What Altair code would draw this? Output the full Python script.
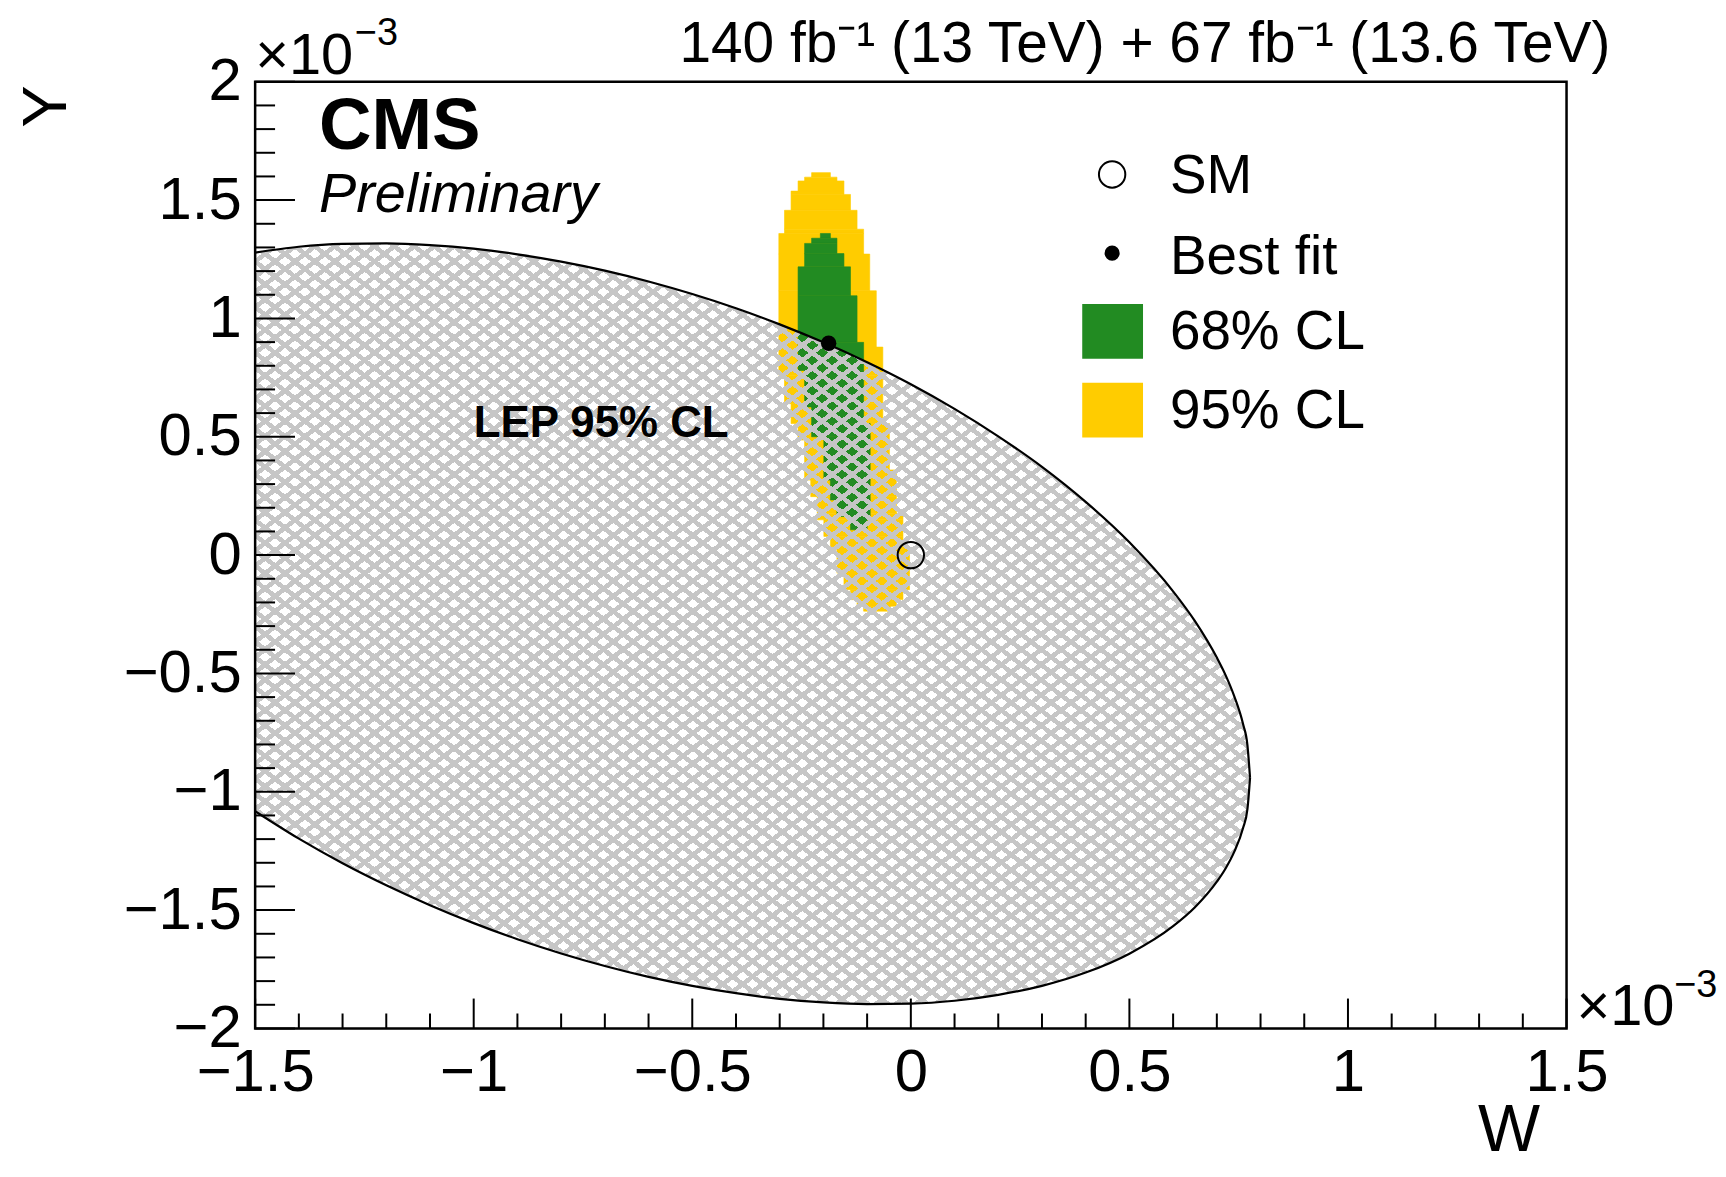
import altair as alt
import pandas as pd

FONT = "Liberation Sans"
W_PLOT, H_PLOT = 1316, 950

# ---------------- data (units of 1e-3) ----------------
# LEP 95% CL ellipse boundary
lep_w = [-1.5, -1.4, -1.3, -1.2, -1.1, -1.0, -0.9, -0.8, -0.7, -0.6, -0.5, -0.4, -0.3,
         -0.2, -0.1, 0.0, 0.1, 0.2, 0.3, 0.4, 0.5, 0.6, 0.65, 0.7, 0.72, 0.74, 0.76, 0.77, 0.776]
lep_up = [1.278, 1.303, 1.315, 1.317, 1.310, 1.295, 1.271, 1.240, 1.202, 1.156, 1.103, 1.043, 0.975,
          0.899, 0.815, 0.722, 0.618, 0.502, 0.373, 0.225, 0.054, -0.153, -0.279, -0.433, -0.507,
          -0.597, -0.714, -0.803, -0.941]
lep_low = [-1.082, -1.198, -1.302, -1.395, -1.479, -1.555, -1.623, -1.683, -1.736, -1.782, -1.820,
           -1.851, -1.875, -1.890, -1.897, -1.895, -1.883, -1.858, -1.820, -1.764, -1.684, -1.568,
           -1.488, -1.380, -1.324, -1.253, -1.153, -1.073, -0.941]

# 95% CL region, row by row (Y top, Y bottom, W left, W right)
cl95_ytop = [1.616, 1.597, 1.581, 1.538, 1.524, 1.457, 1.377, 1.359, 1.272, 1.117, 0.879, 0.760,
             0.640, 0.556, 0.486, 0.360, 0.317, 0.247, 0.177, 0.149, 0.079, 0.036, 0.022, -0.076,
             -0.146, -0.188, -0.216]
cl95_ybot = [1.597, 1.581, 1.538, 1.524, 1.457, 1.377, 1.359, 1.272, 1.117, 0.879, 0.760, 0.640,
             0.556, 0.486, 0.360, 0.317, 0.247, 0.177, 0.149, 0.079, 0.036, 0.022, -0.076, -0.146,
             -0.188, -0.216, -0.237]
cl95_wl = [-0.227, -0.243, -0.258, -0.274, -0.274, -0.289, -0.289, -0.302, -0.302, -0.302, -0.302,
           -0.289, -0.274, -0.258, -0.243, -0.243, -0.229, -0.214, -0.214, -0.199, -0.184, -0.184,
           -0.169, -0.153, -0.138, -0.123, -0.108]
cl95_wr = [-0.184, -0.169, -0.153, -0.153, -0.138, -0.123, -0.108, -0.108, -0.094, -0.079, -0.064,
           -0.064, -0.064, -0.049, -0.049, -0.033, -0.033, -0.033, -0.018, -0.018, -0.018, -0.003,
           -0.003, -0.003, -0.018, -0.033, -0.047]

# 68% CL region
cl68_ytop = [1.359, 1.339, 1.317, 1.274, 1.218, 1.096, 0.899, 0.780, 0.626, 0.556, 0.500, 0.317, 0.233, 0.163]
cl68_ybot = [1.339, 1.317, 1.274, 1.218, 1.096, 0.899, 0.780, 0.626, 0.556, 0.500, 0.317, 0.233, 0.163, 0.107]
cl68_wl = [-0.207, -0.227, -0.243, -0.243, -0.258, -0.258, -0.258, -0.243, -0.227, -0.227, -0.199, -0.184, -0.169, -0.138]
cl68_wr = [-0.184, -0.169, -0.169, -0.153, -0.138, -0.123, -0.108, -0.108, -0.108, -0.093, -0.093, -0.093, -0.093, -0.100]

best_fit_w, best_fit_y = [-0.188], [0.895]
sm_w, sm_y = [0.0], [0.0]

x_major = [-1.5, -1.0, -0.5, 0.0, 0.5, 1.0, 1.5]
x_minor = [-1.4, -1.3, -1.2, -1.1, -0.9, -0.8, -0.7, -0.6, -0.4, -0.3, -0.2, -0.1,
           0.1, 0.2, 0.3, 0.4, 0.6, 0.7, 0.8, 0.9, 1.1, 1.2, 1.3, 1.4]
y_major = [-2.0, -1.5, -1.0, -0.5, 0.0, 0.5, 1.0, 1.5, 2.0]
y_minor = [-1.9, -1.8, -1.7, -1.6, -1.4, -1.3, -1.2, -1.1, -0.9, -0.8, -0.7, -0.6, -0.4, -0.3,
           -0.2, -0.1, 0.1, 0.2, 0.3, 0.4, 0.6, 0.7, 0.8, 0.9, 1.1, 1.2, 1.3, 1.4, 1.6, 1.7,
           1.8, 1.9]

legend_labels = ["SM", "Best fit", "68% CL", "95% CL"]
lumi_text = "140 fb⁻¹ (13 TeV) + 67 fb⁻¹ (13.6 TeV)"

GREEN = "#228b22"
YELLOW = "#ffcc00"
HATCH = "#c6c6c6"

# ---------------- scales / axes ----------------
xs = alt.Scale(domain=[-1.5, 1.5], nice=False, zero=False)
ys = alt.Scale(domain=[-2.0, 2.0], nice=False, zero=False)

x_axis = alt.Axis(values=x_major, format="~g", labelFont=FONT, labelFontSize=60, labelColor="black",
                  labelPadding=15, ticks=False, tickSize=0, domain=False, grid=False,
                  labelFlush=False, labelOverlap=False, title="W", titleFont=FONT,
                  titleFontSize=66, titleFontWeight="normal", titleColor="black",
                  titleAlign="right", titleBaseline="alphabetic", titleX=1289, titleY=122)
y_axis = alt.Axis(values=y_major, format="~g", labelFont=FONT, labelFontSize=60, labelColor="black",
                  labelPadding=14, ticks=False, tickSize=0, domain=False, grid=False,
                  labelFlush=False, labelOverlap=False, title="Y", titleFont=FONT,
                  titleFontSize=64, titleFontWeight="normal", titleColor="black",
                  titleAngle=270, titleAlign="right", titleBaseline="alphabetic",
                  titleX=-190, titleY=3)


def X(field):
    return alt.X(field, scale=xs, axis=x_axis)


def Y(field):
    return alt.Y(field, scale=ys, axis=y_axis)


df95 = pd.DataFrame({"yt": cl95_ytop, "yb": cl95_ybot, "wl": cl95_wl, "wr": cl95_wr})
df68 = pd.DataFrame({"yt": cl68_ytop, "yb": cl68_ybot, "wl": cl68_wl, "wr": cl68_wr})
dflep = pd.DataFrame({"w": lep_w, "up": lep_up, "low": lep_low})

rect95 = alt.Chart(df95).mark_rect(color=YELLOW, stroke=YELLOW, strokeWidth=0.6).encode(
    x=X("wl:Q"), x2="wr:Q", y=Y("yt:Q"), y2="yb:Q")
rect68 = alt.Chart(df68).mark_rect(color=GREEN, stroke=GREEN, strokeWidth=0.6).encode(
    x=X("wl:Q"), x2="wr:Q", y=Y("yt:Q"), y2="yb:Q")


# hatch texture for the LEP region: two families of diagonal stripes
def stripes(flip):
    n = 100
    frac = 0.38
    clear = "rgba(198,198,198,0)"
    stops = []
    for i in range(n):
        a = i / n
        b = (i + frac) / n
        c = (i + 1) / n
        stops += [alt.GradientStop(offset=a, color=HATCH), alt.GradientStop(offset=b, color=HATCH),
                  alt.GradientStop(offset=b, color=clear), alt.GradientStop(offset=c, color=clear)]
    if flip:
        return alt.LinearGradient(gradient="linear", stops=stops, x1=1, y1=0, x2=0, y2=1)
    return alt.LinearGradient(gradient="linear", stops=stops, x1=0, y1=0, x2=1, y2=1)


lep_fill_a = alt.Chart(dflep).mark_area(color=stripes(False), interpolate="monotone", clip=True).encode(
    x=X("w:Q"), y=Y("low:Q"), y2="up:Q")
lep_fill_b = alt.Chart(dflep).mark_area(color=stripes(True), interpolate="monotone", clip=True).encode(
    x=X("w:Q"), y=Y("low:Q"), y2="up:Q")
lep_up_line = alt.Chart(dflep).mark_line(color="black", strokeWidth=2.2, interpolate="monotone", clip=True).encode(
    x=X("w:Q"), y=Y("up:Q"))
lep_low_line = alt.Chart(dflep).mark_line(color="black", strokeWidth=2.2, interpolate="monotone", clip=True).encode(
    x=X("w:Q"), y=Y("low:Q"))

lep_label = alt.Chart(pd.DataFrame({"w": [-1.0], "y": [0.5], "t": ["LEP 95% CL"]})).mark_text(
    font=FONT, fontSize=44, fontWeight="bold", align="left", baseline="alphabetic", color="black").encode(
    x=X("w:Q"), y=Y("y:Q"), text="t:N")

best = alt.Chart(pd.DataFrame({"w": best_fit_w, "y": best_fit_y})).mark_point(
    shape="circle", filled=True, color="black", size=240, opacity=1).encode(
    x=X("w:Q"), y=Y("y:Q"))
sm = alt.Chart(pd.DataFrame({"w": sm_w, "y": sm_y})).mark_point(
    shape="circle", filled=False, color="black", size=700, strokeWidth=2, opacity=1).encode(
    x=X("w:Q"), y=Y("y:Q"))


# inward ticks
def xticks(vals, length):
    return alt.Chart(pd.DataFrame({"v": vals})).mark_rule(color="black", strokeWidth=2).encode(
        x=X("v:Q"), y=alt.value(H_PLOT), y2=alt.value(H_PLOT - length))


def yticks(vals, length):
    return alt.Chart(pd.DataFrame({"v": vals})).mark_rule(color="black", strokeWidth=2).encode(
        y=Y("v:Q"), x=alt.value(0), x2=alt.value(length))


frame = alt.Chart(pd.DataFrame({"a": [0]})).mark_rect(fillOpacity=0, stroke="black", strokeWidth=2.5).encode(
    x=alt.value(0), x2=alt.value(W_PLOT), y=alt.value(0), y2=alt.value(H_PLOT))


def text(t, x, y, size, align="left", weight="normal", style="normal"):
    return alt.Chart(pd.DataFrame({"t": [t]})).mark_text(
        font=FONT, fontSize=size, fontWeight=weight, fontStyle=style, align=align,
        baseline="alphabetic", color="black").encode(x=alt.value(x), y=alt.value(y), text="t:N")


# legend
leg_sm = alt.Chart(pd.DataFrame({"l": [legend_labels[0]]})).mark_point(
    shape="circle", filled=False, color="black", size=700, strokeWidth=2, opacity=1).encode(
    x=alt.value(860), y=alt.value(93))
leg_bf = alt.Chart(pd.DataFrame({"l": [legend_labels[1]]})).mark_point(
    shape="circle", filled=True, color="black", size=230, opacity=1).encode(
    x=alt.value(860), y=alt.value(172))
leg_68 = alt.Chart(pd.DataFrame({"l": [legend_labels[2]]})).mark_rect(color=GREEN).encode(
    x=alt.value(830), x2=alt.value(891), y=alt.value(223), y2=alt.value(278))
leg_95 = alt.Chart(pd.DataFrame({"l": [legend_labels[3]]})).mark_rect(color=YELLOW).encode(
    x=alt.value(830), x2=alt.value(891), y=alt.value(302), y2=alt.value(357))

layers = [
    rect95, rect68, lep_fill_a, lep_fill_b, lep_up_line, lep_low_line, lep_label,
    xticks(x_major, 30), xticks(x_minor, 15), yticks(y_major, 40), yticks(y_minor, 20),
    sm, best, frame,
    leg_sm, leg_bf, leg_68, leg_95,
    text(legend_labels[0], 918, 112, 55),
    text(legend_labels[1], 918, 193, 55),
    text(legend_labels[2], 918, 268, 55),
    text(legend_labels[3], 918, 347, 55),
    text("CMS", 64, 67, 73, weight="bold"),
    text("Preliminary", 64, 131, 56, style="italic"),
    text(lumi_text, 1360, -20, 57, align="right"),
    text("×10", 0, -8, 58),
    text("−3", 100, -37, 38),
    text("×10", 1326, 947, 58),
    text("−3", 1424, 918, 38),
]

chart = alt.layer(*layers).properties(
    width=W_PLOT, height=H_PLOT,
    padding={"left": 248, "top": 72, "right": 152, "bottom": 135},
    autosize=alt.AutoSizeParams(type="none"),
).configure_view(stroke=None).configure(background="white")

chart.save("out.html", embed_options={"renderer": "svg", "actions": False})
